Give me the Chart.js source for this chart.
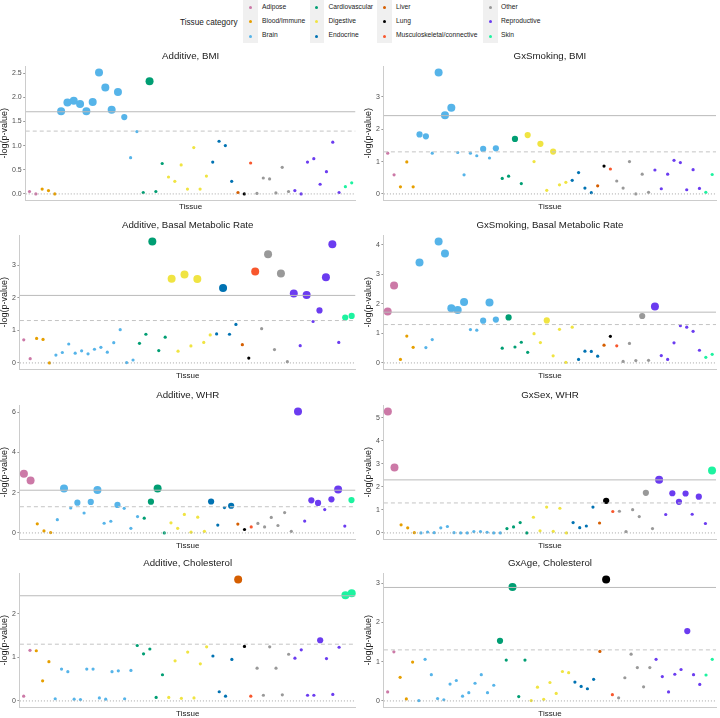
<!DOCTYPE html>
<html>
<head>
<meta charset="utf-8">
<script src="https://cdn.jsdelivr.net/npm/chart.js@4.4.1/dist/chart.umd.min.js"></script>
<style>
  html, body { margin: 0; padding: 0; background: #fff; }
  body { width: 720px; height: 718px; position: relative; overflow: hidden;
         font-family: "Liberation Sans", Arial, Helvetica, sans-serif; }
  canvas.panel { position: absolute; }
  .lg-title { position: absolute; font-size: 8.2px; color: #1a1a1a; white-space: nowrap; line-height: 1; }
  .lg-keycol { position: absolute; background: #f0f0f0; }
  .lg-dot { position: absolute; width: 3px; height: 3px; border-radius: 50%; }
  .lg-label { position: absolute; font-size: 6.7px; color: #222; white-space: nowrap; line-height: 1; }
</style>
</head>
<body>
<div id="legend"></div>
<script>
// ---------------- DATA ----------------
const categories = ["Adipose", "Blood/Immune", "Brain", "Cardiovascular", "Digestive", "Endocrine",
  "Liver", "Lung", "Musculoskeletal/connective", "Other", "Reproductive", "Skin"];
const categoryColors = ["#CC79A7", "#E69F00", "#56B4E9", "#009E73", "#F0E442", "#0072B2",
  "#D55E00", "#000000", "#F8572D", "#999999", "#6B3CF0", "#1DF3A0"];

// number of tissues in each category (same order as categories), per trait
const tissueCountsBMI  = [2, 3, 13, 4, 7, 4, 1, 1, 1, 6, 8, 2];
const tissueCountsBMR  = [2, 3, 13, 5, 7, 4, 1, 1, 1, 5, 8, 2];
const tissueCountsWHR  = [2, 3, 13, 4, 6, 4, 1, 1, 1, 6, 8, 1];
const tissueCountsChol = [2, 3, 13, 5, 7, 4, 1, 1, 1, 6, 8, 2];

const panelTitles = ["Additive, BMI", "GxSmoking, BMI", "Additive, Basal Metabolic Rate",
  "GxSmoking, Basal Metabolic Rate", "Additive, WHR", "GxSex, WHR", "Additive, Cholesterol", "GxAge, Cholesterol"];

// -log(p-value) per tissue, in tissue order
const additiveBMI = [0.05, 0.00, 0.10, 0.07, 0.00,
  1.71, 1.89, 1.93, 1.86, 1.71, 1.90, 2.51, 2.20, 1.74, 2.11, 1.59, 0.75, 1.29,
  0.03, 2.33, 0.05, 0.63,
  0.35, 0.26, 0.60, 0.10, 0.96, 0.10, 0.37,
  0.66, 1.09, 1.00, 0.26,
  0.03, 0.00, 0.64,
  0.01, 0.33, 0.31, 0.02, 0.55, 0.05,
  0.07, 0.00, 0.66, 0.73, 0.20, 0.46, 1.07, 0.03,
  0.15, 0.23];
const gxSmokingBMI = [1.26, 0.59, 0.22, 0.99, 0.22,
  1.84, 1.78, 1.26, 3.75, 2.43, 2.66, 1.28, 0.59, 1.26, 1.18, 1.39, 1.11, 1.41,
  0.48, 0.55, 1.70, 0.32,
  1.82, 1.00, 1.55, 0.11, 1.31, 0.28, 0.36,
  0.42, 0.66, 0.18, 0.04,
  0.25, 0.86, 0.77,
  0.40, 0.18, 1.00, 0.00, 0.61, 0.05,
  0.74, 0.16, 0.61, 1.04, 0.97, 0.13, 0.75, 0.17,
  0.05, 0.60];
const additiveBMR = [0.71, 0.13, 0.75, 0.72, 0.00,
  0.24, 0.32, 0.58, 0.30, 0.37, 0.28, 0.42, 0.48, 0.33, 0.62, 1.02, 0.01, 0.09,
  0.60, 0.88, 3.72, 0.38, 0.79,
  2.58, 0.36, 2.71, 0.52, 2.57, 0.63, 0.86,
  0.89, 2.30, 0.88, 1.18,
  0.56, 0.15, 2.80,
  1.05, 3.33, 0.41, 2.74, 0.04,
  2.13, 0.53, 2.08, 1.27, 1.61, 2.63, 3.64, 0.63,
  1.39, 1.44];
const gxSmokingBMR = [1.74, 2.62, 0.12, 0.91, 0.53,
  3.40, 0.52, 0.79, 4.11, 3.71, 1.85, 1.79, 2.06, 1.13, 1.11, 1.43, 2.05, 1.47,
  0.50, 1.54, 0.54, 0.70, 0.36,
  0.99, 0.69, 1.44, 0.24, 1.14, 0.02, 1.21,
  0.12, 0.40, 0.39, 0.23,
  0.60, 0.90, 0.58,
  0.05, 0.66, 0.08, 1.59, 0.09,
  1.91, 0.25, 0.12, 0.68, 1.26, 1.21, 1.07, 0.43,
  0.19, 0.29];
const additiveWHR = [2.94, 2.60, 0.45, 0.10, 0.02,
  0.66, 2.21, 1.24, 1.50, 0.99, 1.54, 2.13, 0.48, 0.58, 1.39, 1.22, 0.23, 0.81,
  0.73, 1.55, 2.21, 0.00,
  0.50, 0.23, 0.92, 0.04, 0.78, 0.08,
  1.56, 0.39, 1.26, 1.35,
  0.44, 0.17, 0.30,
  0.47, 0.30, 0.77, 0.37, 1.01, 0.08,
  6.02, 0.59, 1.62, 1.49, 1.16, 1.67, 2.16, 0.34,
  1.63];
const gxSexWHR = [5.26, 2.84, 0.35, 0.22, 0.01,
  0.00, 0.04, 0.01, 0.22, 0.28, 0.01, 0.00, 0.00, 0.06, 0.06, 0.03, 0.00, 0.00,
  0.19, 0.26, 0.45, 0.00,
  0.68, 0.09, 1.12, 0.07, 1.07, 0.00,
  0.45, 0.23, 0.30, 1.12,
  0.43, 1.39, 0.93,
  0.94, 0.06, 1.01, 0.71, 1.74, 0.19,
  2.31, 0.80, 1.72, 1.35, 1.71, 0.81, 1.57, 0.41,
  2.71];
const additiveChol = [0.11, 1.16, 1.15, 0.46, 0.90,
  0.05, 0.73, 0.67, 0.04, 0.03, 0.73, 0.73, 0.07, 0.04, 0.67, 0.69, 0.05, 0.70,
  1.27, 1.08, 1.19, 0.08, 0.60,
  0.08, 0.92, 0.06, 1.12, 0.07, 0.85, 1.24,
  1.03, 0.21, 0.11, 0.95,
  2.78, 1.25, 0.11,
  0.75, 0.13, 1.24, 0.75, 0.14, 1.07,
  0.98, 1.17, 0.13, 0.13, 1.39, 0.97, 0.15, 1.23,
  2.42, 2.47];
const gxAgeChol = [0.23, 1.25, 0.60, 0.05, 0.99,
  0.01, 1.06, 0.67, 0.06, 0.03, 0.43, 0.52, 0.12, 0.21, 0.45, 0.67, 0.21, 0.40,
  1.53, 1.04, 2.90, 0.11, 1.04,
  0.01, 0.35, 0.04, 0.47, 0.19, 0.75, 0.72,
  0.48, 0.37, 0.31, 0.55,
  1.26, 3.09, 0.16,
  0.08, 0.59, 1.19, 0.85, 0.36, 0.85,
  1.06, 0.62, 0.23, 0.68, 0.80, 1.78, 0.67, 0.42,
  0.66, 1.06];

// significance thresholds (-log p): panel-specific solid line, and nominal 0.05 dashed line
const solidThresholds = [1.70, 2.42, 2.07, 1.72, 2.12, 2.30, 2.41, 2.89];
const nominalThreshold = 1.3;

// y tick labels per panel
const yTickLabels = [
  ["0.0", "0.5", "1.0", "1.5", "2.0", "2.5"],
  ["0", "1", "2", "3"],
  ["0", "1", "2", "3"],
  ["0", "1", "2", "3", "4"],
  ["0", "2", "4", "6"],
  ["0", "1", "2", "3", "4", "5"],
  ["0", "1", "2"],
  ["0", "1", "2", "3"]
];

const panelValues = [additiveBMI, gxSmokingBMI, additiveBMR, gxSmokingBMR, additiveWHR, gxSexWHR, additiveChol, gxAgeChol];
const panelCounts = [tissueCountsBMI, tissueCountsBMI, tissueCountsBMR, tissueCountsBMR,
  tissueCountsWHR, tissueCountsWHR, tissueCountsChol, tissueCountsChol];

// ---------------- LEGEND ----------------
(function buildLegend() {
  const lg = document.getElementById('legend');
  const t = document.createElement('div');
  t.className = 'lg-title';
  t.textContent = 'Tissue category';
  t.style.left = '180px'; t.style.top = '18.5px';
  lg.appendChild(t);
  const keyLefts = [243, 309.5, 377, 483];
  const labelLefts = [262, 328.5, 396, 501];
  const keyW = 14.5, rowH = 14.4;
  for (let c = 0; c < 4; c++) {
    const col = document.createElement('div');
    col.className = 'lg-keycol';
    col.style.left = keyLefts[c] + 'px'; col.style.top = '0px';
    col.style.width = keyW + 'px'; col.style.height = (rowH * 3) + 'px';
    lg.appendChild(col);
  }
  categories.forEach((name, i) => {
    const c = Math.floor(i / 3), r = i % 3;
    const cy = r * rowH + rowH / 2;
    const d = document.createElement('div');
    d.className = 'lg-dot';
    d.style.background = categoryColors[i];
    d.style.left = (keyLefts[c] + keyW / 2 - 1.5) + 'px';
    d.style.top = (cy - 1.5) + 'px';
    lg.appendChild(d);
    const l = document.createElement('div');
    l.className = 'lg-label';
    l.textContent = name;
    l.style.left = labelLefts[c] + 'px';
    l.style.top = (cy - 3.6) + 'px';
    lg.appendChild(l);
  });
})();

// ---------------- PANELS ----------------
Chart.defaults.font.family = '"Liberation Sans", Arial, Helvetica, sans-serif';
Chart.defaults.animation = false;

const rowTops = [44, 213, 383, 551];

panelValues.forEach((vals, i) => {
  const col = i % 2, row = Math.floor(i / 2);
  const canvas = document.createElement('canvas');
  canvas.className = 'panel';
  canvas.width = 360; canvas.height = 169;
  canvas.style.left = (col * 360) + 'px';
  canvas.style.top = rowTops[row] + 'px';
  canvas.style.width = '360px'; canvas.style.height = '169px';
  document.body.appendChild(canvas);

  const counts = panelCounts[i];
  const cats = [];
  counts.forEach((cnt, k) => { for (let j = 0; j < cnt; j++) cats.push(k); });
  const n = vals.length;
  const thr = solidThresholds[i];
  const pts = vals.map((v, j) => ({ x: j + 1, y: v }));
  const colors = vals.map((v, j) => categoryColors[cats[j]]);
  const radii = vals.map(v => v >= thr ? 4.0 : (v >= nominalThreshold ? 3.1 : 1.6));

  const top = Math.max(...vals, thr, nominalThreshold, 0);
  const ymin = -0.05 * top, ymax = top * 1.05;
  const xmin = 0.4, xmax = n + 0.6;
  const tickLabels = yTickLabels[i];
  const tickVals = tickLabels.map(parseFloat);

  new Chart(canvas, {
    type: 'scatter',
    data: {
      datasets: [
        { type: 'line', data: [{ x: xmin, y: thr }, { x: xmax, y: thr }],
          borderColor: '#bababa', borderWidth: 1, pointRadius: 0, tension: 0, fill: false, order: 0 },
        { type: 'line', data: [{ x: xmin, y: nominalThreshold }, { x: xmax, y: nominalThreshold }],
          borderColor: '#c4c4c4', borderWidth: 1, borderDash: [4, 3], pointRadius: 0, tension: 0, fill: false, order: 0 },
        { type: 'line', data: [{ x: xmin, y: 0 }, { x: xmax, y: 0 }],
          borderColor: '#a6a6a6', borderWidth: 1, borderDash: [1, 2], pointRadius: 0, tension: 0, fill: false, order: 0 },
        { type: 'scatter', data: pts, backgroundColor: colors, pointBackgroundColor: colors,
          borderWidth: 0, pointBorderWidth: 0, pointRadius: radii, order: 1, clip: false }
      ]
    },
    options: {
      responsive: false,
      devicePixelRatio: 1,
      animation: false,
      events: [],
      layout: { padding: { left: col ? 4 : 0, right: col ? 0.5 : 4.5, top: 0, bottom: 0 } },
      plugins: {
        legend: { display: false },
        tooltip: { enabled: false },
        title: {
          display: true, text: panelTitles[i], fullSize: false,
          font: { size: 9.7, weight: 'normal', lineHeight: 1.2 }, color: '#1a1a1a',
          padding: { top: 6.7, bottom: 4.2 }
        }
      },
      scales: {
        x: {
          type: 'linear', bounds: 'data', min: xmin, max: xmax,
          ticks: { display: false },
          grid: { display: false, drawTicks: false, tickLength: 0 },
          border: { display: true, color: '#cccccc', width: 1 },
          title: { display: true, text: 'Tissue', font: { size: 8, lineHeight: 1.2 }, color: '#1a1a1a',
                   padding: { top: 2, bottom: 1.4 } }
        },
        y: {
          type: 'linear', bounds: 'data', min: ymin, max: ymax,
          afterBuildTicks: s => { s.ticks = tickVals.map(v => ({ value: v })); },
          ticks: {
            autoSkip: false, padding: 1.5, color: '#4d4d4d', font: { size: 7 },
            callback: (v) => { const k = tickVals.indexOf(v); return k >= 0 ? tickLabels[k] : ''; }
          },
          grid: { display: true, drawOnChartArea: false, drawTicks: true, tickLength: 2.5, color: '#9a9a9a' },
          border: { display: true, color: '#cccccc', width: 1 },
          title: { display: true, text: '-log(p-value)', font: { size: 9, lineHeight: 1 }, color: '#1a1a1a',
                   padding: { top: 0.3, bottom: 1.2 } }
        }
      }
    }
  });
});
</script>
</body>
</html>
